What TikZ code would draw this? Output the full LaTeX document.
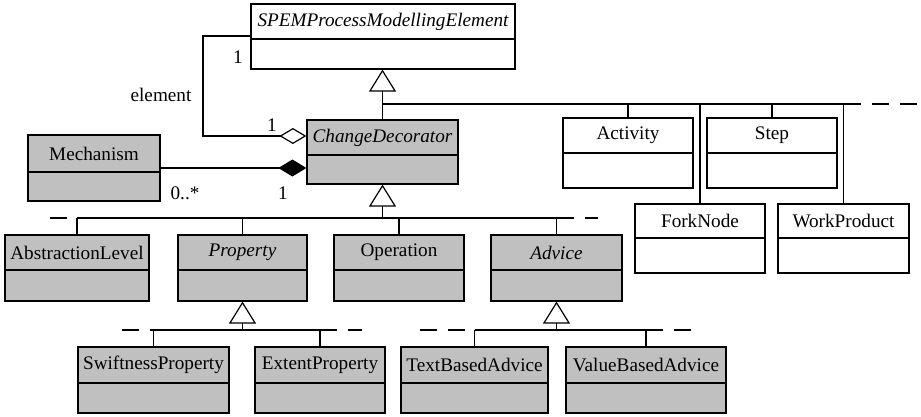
\documentclass[tikz,border=0pt]{standalone}
\usepackage{fontspec}
\setmainfont{Liberation Serif}
\usetikzlibrary{arrows.meta,fit,calc}

\definecolor{clsgray}{HTML}{C0C0C0}

\tikzset{
  uml/.style={line width=1.2pt},
  clsbox/.style={draw, uml, inner sep=0pt},
  clsname/.style={inner sep=0pt, font=\fontsize{19.2}{21}\selectfont},
  lbl/.style={inner sep=0pt, font=\fontsize{19.2}{21}\selectfont},
  gen/.style={uml, -{Triangle[open, length=22pt, width=27pt]}},
  bus/.style={uml},
  busext/.style={uml, dash pattern=on 17pt off 11pt},
  agg/.style={uml, {Diamond[open, length=27pt, width=16pt]}-},
  comp/.style={uml, {Diamond[length=28pt, width=17pt]}-},
}

% class box: name, x1, x2, y1 (top), divider y, y2 (bottom), title, fill
\newcommand\umlclass[8]{%
  \node[clsbox, fill=#8, fit={(#2,#4) (#3,#6)}] (#1) {};
  \draw[uml] (#1.west |- 0,#5) -- (#1.east |- 0,#5);
  \pgfmathsetmacro\umlcx{(#2+#3)/2}%
  \pgfmathsetmacro\umlcy{(#4+#5)/2}%
  \node[clsname] (#1-title) at (\umlcx,\umlcy) {#7};
}

\begin{document}
\begin{tikzpicture}[x=1pt, y=-1pt]
\useasboundingbox (0,0) rectangle (921,416);

% top level
\umlclass{spem}{251}{515}{4}{39}{69}{\itshape SPEMProcessModellingElement}{white}
\umlclass{chg}{307}{458}{120}{155}{184}{\itshape ChangeDecorator}{clsgray}
\umlclass{mech}{28}{160}{135}{172}{201}{Mechanism}{clsgray}

% SPEM subclasses
\umlclass{act}{563}{693}{118}{153}{188}{Activity}{white}
\umlclass{step}{707}{837}{118}{153}{188}{Step}{white}
\umlclass{fork}{635}{765}{204}{238}{273}{ForkNode}{white}
\umlclass{wp}{778}{909}{204}{238}{273}{WorkProduct}{white}

% ChangeDecorator subclasses
\umlclass{abs}{5}{149}{235}{270}{301}{AbstractionLevel}{clsgray}
\umlclass{prop}{178}{307}{235}{270}{301}{\itshape Property}{clsgray}
\umlclass{oper}{334}{464}{235}{270}{301}{Operation}{clsgray}
\umlclass{adv}{491}{622}{235}{270}{301}{\itshape Advice}{clsgray}

% leaf classes
\umlclass{swift}{78}{229}{347}{383}{413}{SwiftnessProperty}{clsgray}
\umlclass{ext}{255}{385}{347}{383}{413}{ExtentProperty}{clsgray}
\umlclass{text}{401}{548}{347}{383}{413}{TextBasedAdvice}{clsgray}
\umlclass{val}{566}{726}{347}{383}{413}{ValueBasedAdvice}{clsgray}

% generalisation tree under SPEMProcessModellingElement
\coordinate (topbus) at (382.5,104);
\coordinate (topbusend) at (921,104);
\draw[gen] (topbus) -- (topbus |- spem.south);
\draw[uml] (chg.north) -- (chg.north |- topbus);
\draw[bus] (topbus) -- (wp.north |- topbus);
\draw[busext] (wp.north |- topbus) -- (topbusend);
\draw[uml] (act.north) -- (act.north |- topbus);
\draw[uml] (step.north) -- (step.north |- topbus);
\draw[uml] (fork.north) -- (fork.north |- topbus);
\draw[uml] (wp.north) -- (wp.north |- topbus);

% generalisation tree under ChangeDecorator
\coordinate (midbus) at (382.5,218);
\coordinate (midl) at (50,218);
\coordinate (midr) at (598,218);
\draw[gen] (midbus) -- (chg.south);
\draw[busext] (midl) -- (abs.north |- midbus);
\draw[bus] (abs.north |- midbus) -- (adv.north |- midbus);
\draw[busext] (adv.north |- midbus) -- (midr);
\draw[uml] (abs.north) -- (abs.north |- midbus);
\draw[uml] (prop.north) -- (prop.north |- midbus);
\draw[uml] (oper.north) -- (oper.north |- midbus);
\draw[uml] (adv.north) -- (adv.north |- midbus);

% generalisation tree under Property
\coordinate (pbus) at (242.5,330);
\coordinate (pl) at (122,330);
\coordinate (pr) at (362,330);
\draw[gen] (pbus) -- (prop.south);
\draw[busext] (pl) -- (swift.north |- pbus);
\draw[bus] (swift.north |- pbus) -- (ext.north |- pbus);
\draw[busext] (ext.north |- pbus) -- (pr);
\draw[uml] (swift.north) -- (swift.north |- pbus);
\draw[uml] (ext.north) -- (ext.north |- pbus);

% generalisation tree under Advice
\coordinate (abus) at (556.5,330);
\coordinate (al) at (420,330);
\coordinate (ar) at (700,330);
\draw[gen] (abus) -- (adv.south);
\draw[busext] (al) -- (text.north |- abus);
\draw[bus] (text.north |- abus) -- (val.north |- abus);
\draw[busext] (val.north |- abus) -- (ar);
\draw[uml] (text.north) -- (text.north |- abus);
\draw[uml] (val.north) -- (val.north |- abus);

% aggregation: ChangeDecorator decorates an element
\coordinate (aggbend1) at (203,136);
\coordinate (aggbend2) at (203,36);
\draw[agg] (chg.west |- aggbend1) -- (aggbend1) -- (aggbend2) -- (spem.west |- aggbend2);
\node[lbl] (m1) at (238,57) {1};
\node[lbl] (m2) at (272,125) {1};
\node[lbl] (role) at (161,95) {element};

% composition: ChangeDecorator owns mechanisms
\coordinate (compy) at (0,168);
\draw[comp] (chg.west |- compy) -- (mech.east |- compy);
\node[lbl] (m3) at (185,193) {0..*};
\node[lbl] (m4) at (283,193) {1};
\end{tikzpicture}
\end{document}
